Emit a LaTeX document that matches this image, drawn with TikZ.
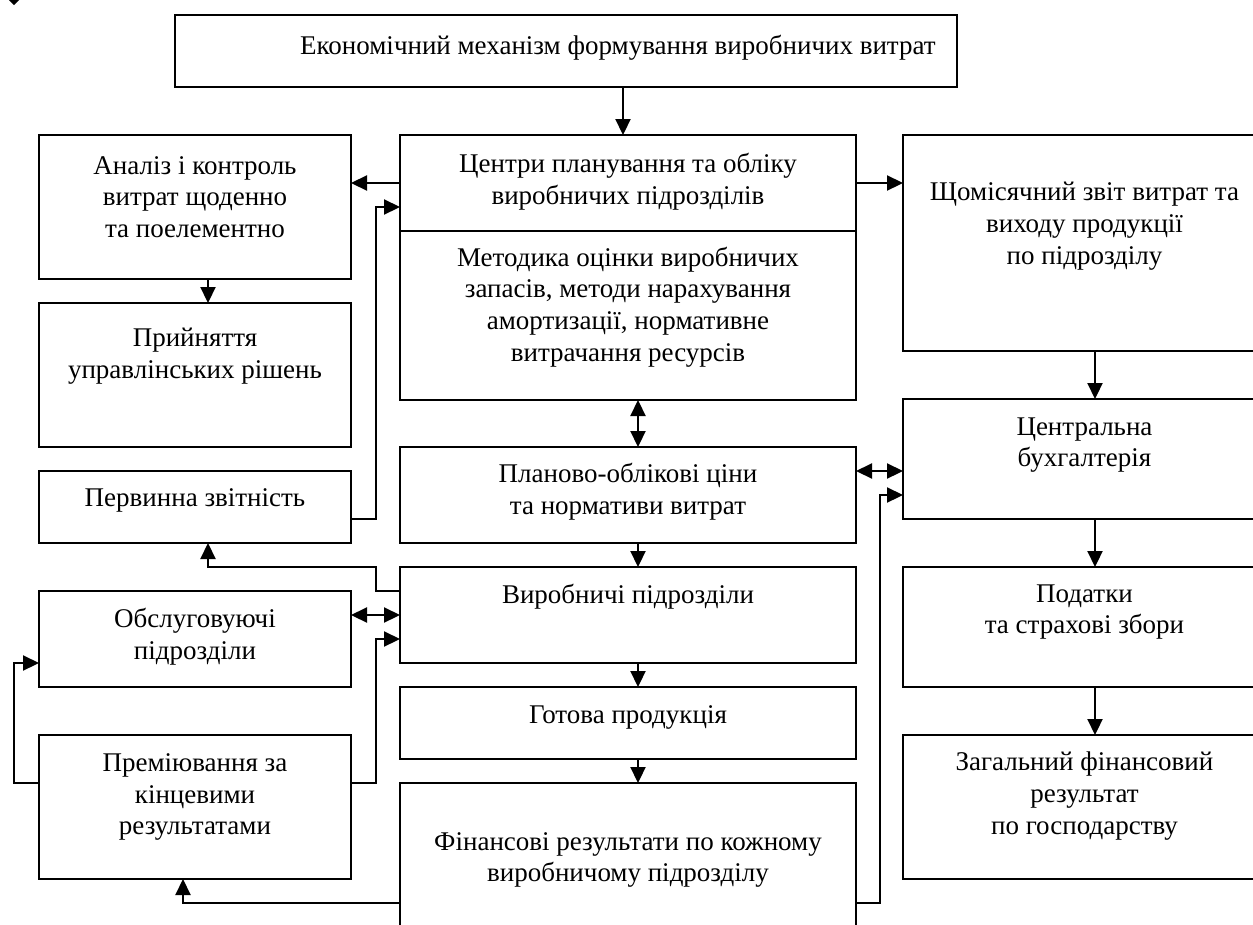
\documentclass[tikz,border=0pt]{standalone}
\usepackage{fontspec}
\setmainfont{Liberation Serif}
\usetikzlibrary{arrows.meta}
\begin{document}
\begin{tikzpicture}[x=1pt,y=-1pt,
  box/.style={draw=black,line width=2.2pt,inner sep=0pt,outer sep=0pt,fill=none},
  txt/.style={align=center,inner sep=0pt,font=\fontsize{27}{31.8}\selectfont},
  arr/.style={line width=2.2pt,-{Triangle[length=16pt,width=15pt]}},
  darr/.style={line width=2.2pt,{Triangle[length=16pt,width=15pt]}-{Triangle[length=16pt,width=15pt]}},
  ln/.style={line width=2.2pt}]
\useasboundingbox (0,0) rectangle (1253,924);
\clip (0,0) rectangle (1253,924);
% boxes
\node[box,minimum width=782pt,minimum height=72pt] (title) at (566,51) {};
\node[box,minimum width=456pt,minimum height=96pt] (centri) at (628,183) {};
\node[box,minimum width=456pt,minimum height=169pt] (metod) at (628,315.5) {};
\node[box,minimum width=312pt,minimum height=144pt] (analiz) at (195,207) {};
\node[box,minimum width=312pt,minimum height=144pt] (pryin) at (195,375) {};
\node[box,minimum width=312pt,minimum height=72pt] (pervyn) at (195,507) {};
\node[box,minimum width=312pt,minimum height=96pt] (obsl) at (195,639) {};
\node[box,minimum width=312pt,minimum height=144pt] (prem) at (195,807) {};
\node[box,minimum width=456pt,minimum height=96pt] (planovo) at (628,495) {};
\node[box,minimum width=456pt,minimum height=96pt] (vyrob) at (628,615) {};
\node[box,minimum width=456pt,minimum height=72pt] (gotova) at (628,723) {};
\node[box,minimum width=456pt,minimum height=177pt] (finans) at (628,871.5) {};
\node[box,minimum width=363pt,minimum height=216pt] (shchom) at (1084.5,243) {};
\node[box,minimum width=363pt,minimum height=120pt] (central) at (1084.5,459) {};
\node[box,minimum width=363pt,minimum height=120pt] (podatky) at (1084.5,627) {};
\node[box,minimum width=363pt,minimum height=144pt] (zagal) at (1084.5,807) {};
% texts
\node[txt,anchor=west] (t-title) at (300,48) {Економічний механізм формування виробничих витрат};
\node[txt] (t-centri) at (628,182) {Центри планування та обліку\\виробничих підрозділів};
\node[txt] (t-metod) at (628,307) {Методика оцінки виробничих\\запасів, методи нарахування\\амортизації, нормативне\\витрачання ресурсів};
\node[txt] (t-analiz) at (195,197) {Аналіз і контроль\\витрат щоденно\\та поелементно};
\node[txt] (t-pryin) at (195,356) {Прийняття\\управлінських рішень};
\node[txt] (t-pervyn) at (195,500) {Первинна звітність};
\node[txt] (t-obsl) at (195,637) {Обслуговуючі\\підрозділи};
\node[txt] (t-prem) at (195,797) {Преміювання за\\кінцевими\\результатами};
\node[txt] (t-planovo) at (628,492) {Планово-облікові ціни\\та нормативи витрат};
\node[txt] (t-vyrob) at (628,597) {Виробничі підрозділи};
\node[txt] (t-gotova) at (628,717) {Готова продукція};
\node[txt] (t-finans) at (628,860) {Фінансові результати по кожному\\виробничому підрозділу};
\node[txt] (t-shchom) at (1084.5,226) {Щомісячний звіт витрат та\\виходу продукції\\по підрозділу};
\node[txt] (t-central) at (1084.5,445) {Центральна\\бухгалтерія};
\node[txt] (t-podatky) at (1084.5,612) {Податки\\та страхові збори};
\node[txt] (t-zagal) at (1084.5,796) {Загальний фінансовий\\результат\\по господарству};
% helper coordinates
\coordinate (ax) at (623,0);
\coordinate (mx) at (638,0);
\coordinate (rx) at (1095,0);
\coordinate (lx) at (208,0);
\coordinate (bx) at (183,0);
\coordinate (jL) at (376,0);
\coordinate (jR) at (880,0);
\coordinate (jO) at (14,0);
% centre column
\draw[arr] (title.south -| ax) -- (centri.north -| ax);
\draw[darr] (metod.south -| mx) -- (planovo.north -| mx);
\draw[arr] (planovo.south -| mx) -- (vyrob.north -| mx);
\draw[arr] (vyrob.south -| mx) -- (gotova.north -| mx);
\draw[arr] (gotova.south -| mx) -- (finans.north -| mx);
% right column
\draw[arr] (centri.east) -- (centri.east -| shchom.west);
\draw[arr] (shchom.south -| rx) -- (central.north -| rx);
\draw[arr] (central.south -| rx) -- (podatky.north -| rx);
\draw[arr] (podatky.south -| rx) -- (zagal.north -| rx);
\coordinate (c1) at ([yshift=-24pt]planovo.north east);
\draw[darr] (c1) -- (c1 -| central.west);
\coordinate (f1) at ([yshift=-120pt]finans.north east);
\coordinate (c2) at ([yshift=-36pt]central.west);
\draw[arr] (f1) -- (f1 -| jR) -- (c2 -| jR) -- (c2);
% left column
\draw[arr] (centri.west) -- (centri.west -| analiz.east);
\draw[arr] (analiz.south -| lx) -- (pryin.north -| lx);
\coordinate (p1) at ([yshift=-12pt]pervyn.east);
\coordinate (p2) at ([yshift=-24pt]centri.west);
\draw[arr] (p1) -- (p1 -| jL) -- (p2 -| jL) -- (p2);
\coordinate (v1) at ([yshift=24pt]vyrob.west);
\draw[arr] (v1) -- (v1 -| jL) -- (jL |- vyrob.north) -- (lx |- vyrob.north) -- (lx |- pervyn.south);
\draw[darr] (vyrob.west -| obsl.east) -- (vyrob.west);
\coordinate (r1) at ([yshift=24pt]prem.east);
\coordinate (v2) at ([yshift=-24pt]vyrob.west);
\draw[arr] (r1) -- (r1 -| jL) -- (v2 -| jL) -- (v2);
\coordinate (r2) at ([yshift=24pt]prem.west);
\coordinate (o1) at ([yshift=-24pt]obsl.west);
\draw[arr] (r2) -- (r2 -| jO) -- (o1 -| jO) -- (o1);
\draw[arr] (f1 -| finans.west) -- (f1 -| bx) -- (bx |- prem.south);
% top-left fragment
\fill (9,0) -- (19,0) -- (14,5) -- cycle;
\end{tikzpicture}
\end{document}
